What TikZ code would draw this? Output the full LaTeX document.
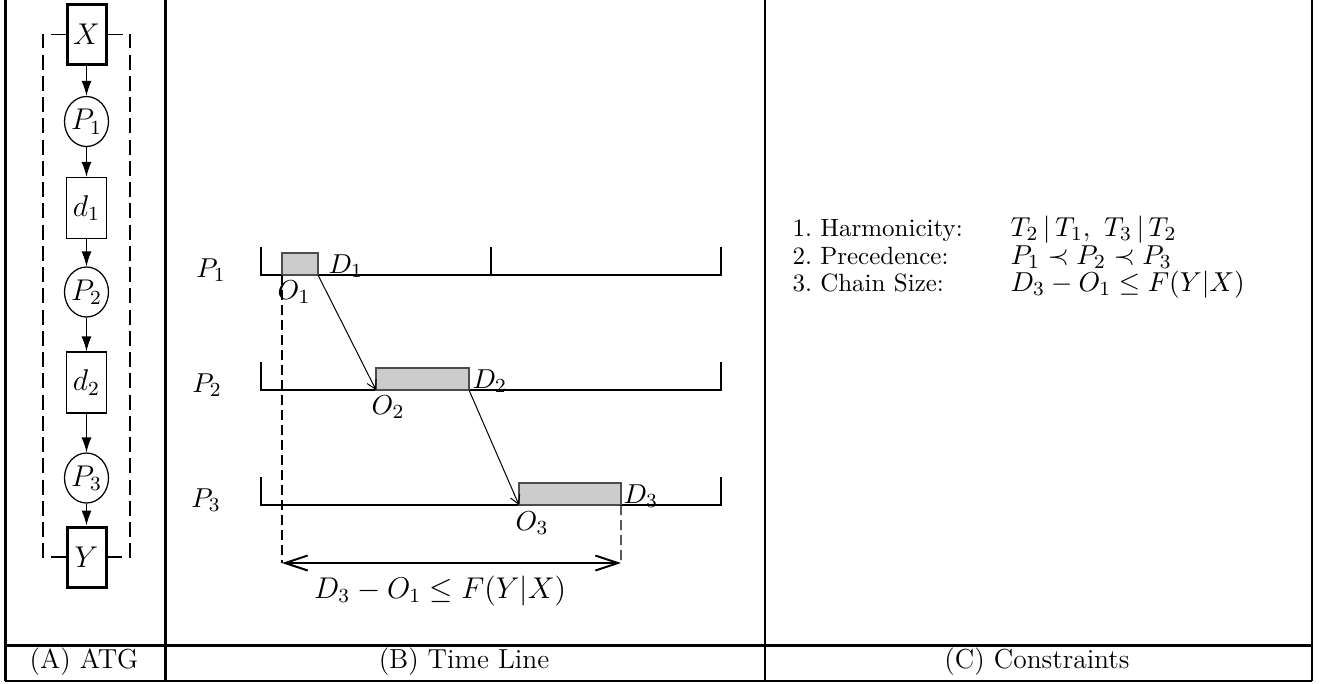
\documentclass[tikz,border=0pt]{standalone}
\usepackage{amssymb,amsmath}
\usepackage{tikz}
\usetikzlibrary{arrows.meta,shapes.geometric}

\begin{document}
\begin{tikzpicture}[x=0.4pt, y=-0.4pt, font=\fontsize{11}{13.2}\selectfont,
		box/.style={draw, line width=0.5pt, fill=white, minimum width=16pt, minimum height=24.4pt, inner sep=0pt, font=\fontsize{12}{14}\selectfont},
		io/.style={box, line width=1.2pt, minimum width=15.6pt, minimum height=24pt},
		proc/.style={draw, ellipse, line width=0.5pt, fill=white, minimum width=17.6pt, minimum height=20pt, inner sep=0pt, font=\fontsize{12}{14}\selectfont},
		link/.style={-{Latex[length=6pt,width=4pt]}, line width=0.5pt},
		loopline/.style={line width=0.5pt, dash pattern=on 6pt off 2.5pt},
		slot/.style={draw=black!70, fill=black!20, line width=0.5pt, inner sep=0pt, outer sep=0pt, minimum height=8.8pt, anchor=south west},
		axis/.style={line width=0.5pt},
		msg/.style={-{Straight Barb[length=3.5pt,width=4pt]}, line width=0.4pt},
		guide/.style={line width=0.5pt, dash pattern=on 4pt off 2pt},
		span/.style={{Straight Barb[length=9pt,width=6pt]}-{Straight Barb[length=9pt,width=6pt]}, line width=0.8pt},
		lbl/.style={inner sep=0pt},
		row/.style={inner sep=0pt, anchor=base west, font=\fontsize{10}{12}\selectfont},
		rule/.style={row, font=\fontsize{11}{13}\selectfont}]
		\useasboundingbox (0,0) rectangle (1325,683);
		% frame
		\draw[line width=1.2pt] (5,0) -- (5,681);
		\draw[line width=1.2pt] (165.5,0) -- (165.5,681);
		\draw[line width=0.8pt] (765,0) -- (765,681);
		\draw[line width=0.8pt] (1311.5,0) -- (1311.5,681);
		\draw[line width=1.2pt] (5,645) -- (1311.5,645);
		\draw[line width=1pt] (5,681) -- (1311.5,681);
		% (A) ATG
		\node[io] (X) at (86.5,34.5) {$X$};
		\node[proc] (P1) at (86.5,121.5) {$P_1$};
		\node[box] (d1) at (86.5,208) {$d_1$};
		\node[proc] (P2) at (86.5,292) {$P_2$};
		\node[box] (d2) at (86.5,382.5) {$d_2$};
		\node[proc] (P3) at (86.5,478) {$P_3$};
		\node[io] (Y) at (86.5,557) {$Y$};
		\foreach \a/\b in {X/P1,P1/d1,d1/P2,P2/d2,d2/P3,P3/Y}
			\draw[link] (\a) -- (\b);
		\coordinate (lft) at (43,300);
		\coordinate (rgt) at (130,300);
		\draw[loopline] (X.west) -| (lft) |- (Y.west);
		\draw[loopline] (X.east) -| (rgt) |- (Y.east);
		% (B) time line
		\draw[axis] (261,247) -- (261,275) -- (721,275) -- (721,247);
		\draw[axis] (491,247) -- (491,275);
		\draw[axis] (261,362) -- (261,390) -- (721,390) -- (721,362);
		\draw[axis] (261,477) -- (261,505) -- (721,505) -- (721,477);
		\node[lbl, anchor=base] (l1) at (211,277) {$P_1$};
		\node[lbl, anchor=base] (l2) at (207,392) {$P_2$};
		\node[lbl, anchor=base] (l3) at (206,507) {$P_3$};
		% executions
		\node[slot, minimum width=14.4pt] (b1) at (282,275) {};
		\node[slot, minimum width=37.2pt] (b2) at (376,390) {};
		\node[slot, minimum width=40.8pt] (b3) at (519,505) {};
		\node[lbl, anchor=base west] (e1) at (328,273) {$D_1$};
		\node[lbl, anchor=base west] (e2) at (472,388) {$D_2$};
		\node[lbl, anchor=base west] (e3) at (623,503) {$D_3$};
		\node[lbl, anchor=base] (s1) at (294,299) {$O_1$};
		\node[lbl, anchor=base] (s2) at (388,414) {$O_2$};
		\node[lbl, anchor=base] (s3) at (532,530) {$O_3$};
		\draw[msg] (b1.south east) -- (b2.south west);
		\draw[msg] (b2.south east) -- (b3.south west);
		% chain size
		\coordinate (m1) at (282,563);
		\coordinate (m3) at (621,563);
		\draw[guide] (b1.south west) -- (m1);
		\draw[guide] (b3.south east) -- (m3);
		\draw[span] (m1) -- (m3);
		\node[lbl, anchor=base, font=\fontsize{12}{14}\selectfont] (len) at (440,598) {$D_3 - O_1 \leq F(Y|X)$};
		% (C) constraints
		\node[row] (h1) at (792,236) {1.~Harmonicity:};
		\node[rule] (r1) at (1010,236) {$T_2\,|\,T_1,\ T_3\,|\,T_2$};
		\node[row] (h2) at (792,264.5) {2.~Precedence:};
		\node[rule] (r2) at (1010,264.5) {$P_1 \prec P_2 \prec P_3$};
		\node[row] (h3) at (792,291) {3.~Chain Size:};
		\node[rule] (r3) at (1010,291) {$D_3 - O_1 \leq F(Y|X)$};
		% captions
		\node[lbl, anchor=base] (ca) at (84,668) {(A) ATG};
		\node[lbl, anchor=base] (cb) at (464,668) {(B) Time Line};
		\node[lbl, anchor=base] (cc) at (1037,668) {(C) Constraints};
	\end{tikzpicture}
\end{document}
